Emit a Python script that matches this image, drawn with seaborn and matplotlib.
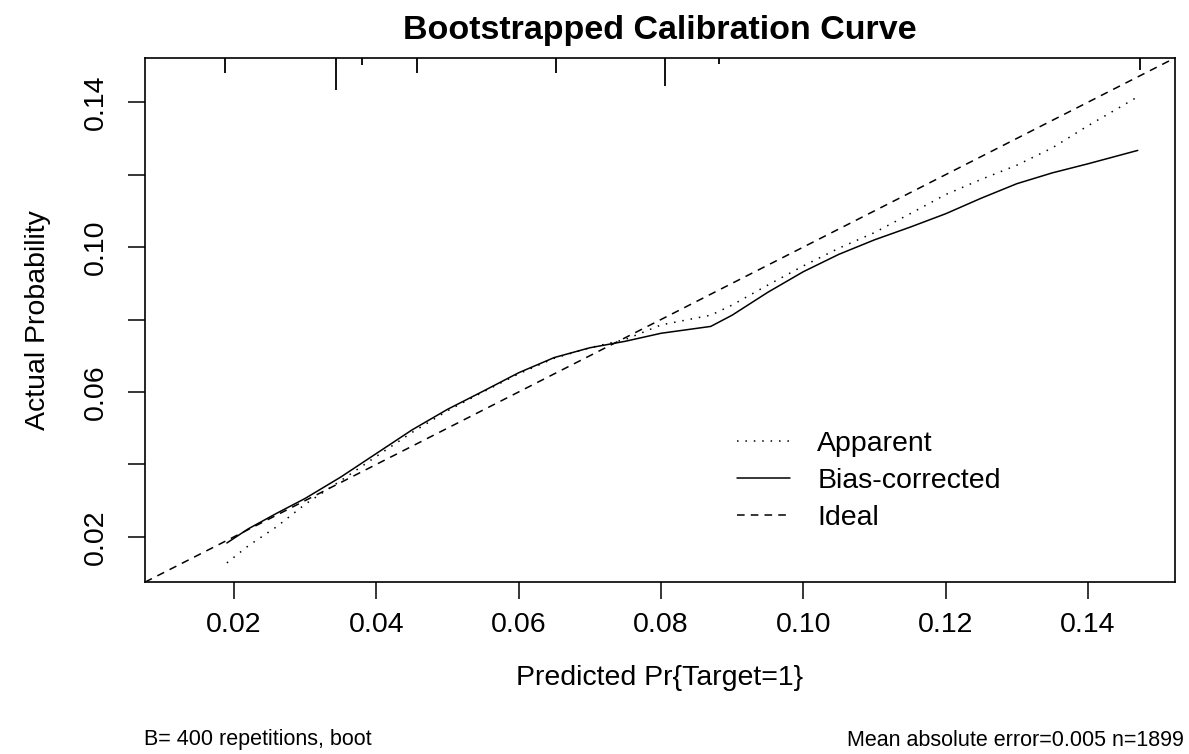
import numpy as np
import pandas as pd
import matplotlib
matplotlib.use("Agg")
import matplotlib.pyplot as plt
import matplotlib.transforms as mtransforms
import seaborn as sns

# predicted probability grid and the two calibration curves
predicted = [0.019, 0.022, 0.026, 0.030, 0.035, 0.040, 0.045, 0.050, 0.055,
             0.060, 0.065, 0.070, 0.075, 0.080, 0.087, 0.090, 0.095, 0.100,
             0.105, 0.110, 0.115, 0.120, 0.125, 0.130, 0.135, 0.140, 0.147]
apparent = [0.0128, 0.0175, 0.0228, 0.0290, 0.0355, 0.0422, 0.0488, 0.0548, 0.0600,
            0.0650, 0.0693, 0.0722, 0.0745, 0.0785, 0.0812, 0.0840, 0.0895, 0.0948,
            0.0997, 0.1040, 0.1092, 0.1145, 0.1187, 0.1226, 0.1274, 0.1335, 0.1415]
bias_corrected = [0.0183, 0.0222, 0.0265, 0.0306, 0.0365, 0.0430, 0.0495, 0.0552, 0.0602,
                  0.0653, 0.0695, 0.0722, 0.0740, 0.0762, 0.0781, 0.0812, 0.0875, 0.0932,
                  0.0980, 0.1020, 0.1055, 0.1092, 0.1135, 0.1175, 0.1205, 0.1230, 0.1267]

# distribution of predicted values (spike heights, relative)
rug_x = [0.0187, 0.0343, 0.0380, 0.0457, 0.0652, 0.0806, 0.0881, 0.1473]
rug_freq = [0.47, 1.00, 0.22, 0.47, 0.47, 0.88, 0.19, 0.38]

ticks = [0.02, 0.04, 0.06, 0.08, 0.10, 0.12, 0.14]
x_ticklabels = ["0.02", "0.04", "0.06", "0.08", "0.10", "0.12", "0.14"]
y_ticklabels = ["0.02", "", "0.06", "", "0.10", "", "0.14"]
lims = (0.0075, 0.1522)

sns.set_theme(style="white")
plt.rcParams["font.family"] = ["Liberation Sans", "DejaVu Sans"]
plt.rcParams["text.color"] = "black"
plt.rcParams["axes.labelcolor"] = "black"

df = pd.DataFrame({"predicted": predicted, "apparent": apparent,
                   "bias": bias_corrected})

fig = plt.figure(figsize=(11.89, 7.54), dpi=100)
ax = fig.add_axes([0.122, 0.228, 0.866, 0.695])

sns.lineplot(data=df, x="predicted", y="apparent", ax=ax, color="black",
             linewidth=1.1, linestyle=(0, (1, 4.5)), label="Apparent")
sns.lineplot(data=df, x="predicted", y="bias", ax=ax, color="black",
             linewidth=1.1, linestyle="-", label="Bias-corrected")
ax.plot(lims, lims, color="black", linewidth=1.1, linestyle=(0, (5, 4)),
        label="Ideal")

# spikes hanging from the top border
trans = mtransforms.blended_transform_factory(ax.transData, ax.transAxes)
rug_len = [0.061 * f for f in rug_freq]
ax.vlines(rug_x, [1 - l for l in rug_len], 1, transform=trans,
          color="black", linewidth=1.3)

ax.set_xlim(lims)
ax.set_ylim(lims)
ax.set_xticks(ticks)
ax.set_xticklabels(x_ticklabels)
ax.set_yticks(ticks)
ax.set_yticklabels(y_ticklabels, rotation=90, va="center")
ax.tick_params(axis="both", direction="out", length=12, width=1.1,
               labelsize=20.5, colors="black", bottom=True, left=True)
ax.tick_params(axis="x", pad=9.5)
ax.tick_params(axis="y", pad=14)
for s in ax.spines.values():
    s.set_visible(True)
    s.set_color("black")
    s.set_linewidth(1.2)

ax.set_xlabel("Predicted Pr{Target=1}", fontsize=20.5, labelpad=19.5)
ax.set_ylabel("Actual Probability", fontsize=20.5, labelpad=23)
ax.set_title("Bootstrapped Calibration Curve", fontsize=24.5, fontweight="bold", pad=14)

ax.legend(loc="upper left", bbox_to_anchor=(0.575, 0.289), frameon=False,
          borderpad=0, borderaxespad=0,
          fontsize=20.5, handlelength=1.86, handletextpad=0.95, labelspacing=0.39)

fig.text(0.121, 1 - 740 / 754, "B= 400 repetitions, boot", fontsize=15.5, va="center")
fig.text(0.996, 1 - 740 / 754, "Mean absolute error=0.005 n=1899", fontsize=15.5,
         ha="right", va="center")

fig.savefig("out.png", dpi=100)
